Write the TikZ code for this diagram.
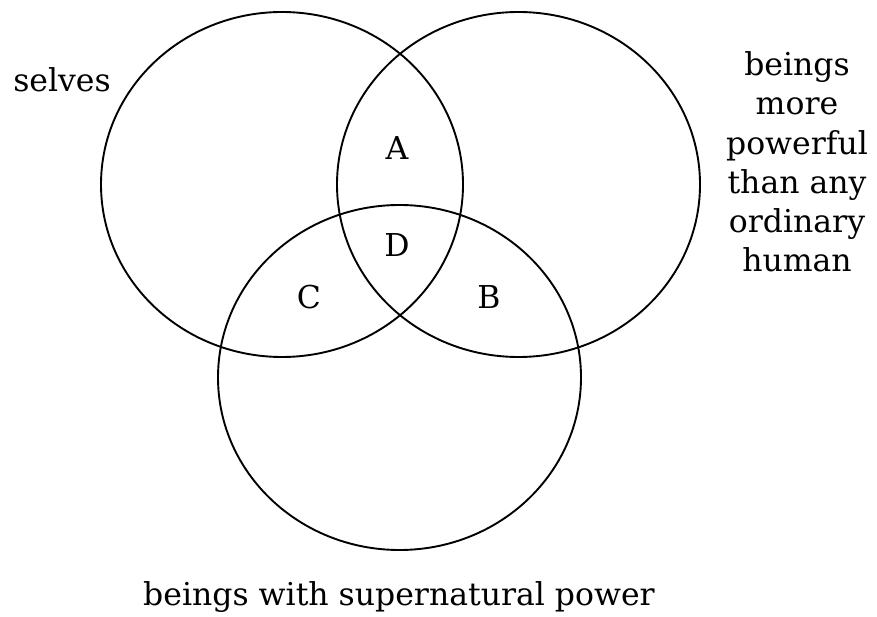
\documentclass[tikz,border=0pt]{standalone}
\usepackage{fontspec}
\setmainfont{DejaVu Serif}
\begin{document}
\begin{tikzpicture}[x=1pt,y=1pt,
  setline/.style={line width=1.9pt, black},
  lbl/.style={font=\fontsize{31.5}{39.3}\selectfont, inner sep=0pt, align=center}]
\useasboundingbox (0,0) rectangle (877,616);
% circles (y = 616 - ypx)
\draw[setline] (282,431.5) ellipse [x radius=181, y radius=172.5];
\draw[setline] (518.5,431.5) ellipse [x radius=181.5, y radius=172.5];
\draw[setline] (399.5,238.5) ellipse [x radius=181.5, y radius=172.5];
% labels
\node[lbl] (selves) at (62,536) {selves};
\node[lbl] (powerful) at (797,454) {beings\\more\\powerful\\than any\\ordinary\\human};
\node[lbl] (super) at (399,19) {beings with supernatural power};
\node[lbl] (A) at (397,468) {A};
\node[lbl] (D) at (397,371) {D};
\node[lbl] (C) at (309,319) {C};
\node[lbl] (B) at (489,319) {B};
\end{tikzpicture}
\end{document}
